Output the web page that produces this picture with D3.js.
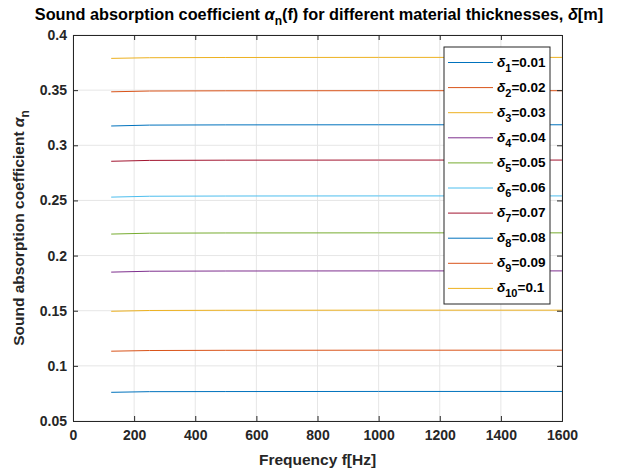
<!DOCTYPE html>
<html>
<head>
<meta charset="utf-8">
<script src="https://cdn.jsdelivr.net/npm/d3@7"></script>
<style>
  body { margin: 0; background: #fff; }
  text { font-family: "Liberation Sans", Arial, sans-serif; font-weight: bold; fill: #262626; }
</style>
</head>
<body>
<div id="chart"></div>
<script>
// frequencies (Hz) sampled along each curve
var freqs = [125, 250, 500, 1000, 1600];
// thickness values for the legend
var thick = ['0.01','0.02','0.03','0.04','0.05','0.06','0.07','0.08','0.09','0.1'];
// absorption coefficient for each thickness (nearly flat in f)
var alpha1  = [0.0760, 0.0766, 0.0767, 0.0768, 0.0768];
var alpha2  = [0.1133, 0.1139, 0.1141, 0.1142, 0.1142];
var alpha3  = [0.1495, 0.1502, 0.1504, 0.1505, 0.1505];
var alpha4  = [0.1850, 0.1858, 0.1860, 0.1861, 0.1861];
var alpha5  = [0.2195, 0.2203, 0.2205, 0.2206, 0.2206];
var alpha6  = [0.2530, 0.2538, 0.2540, 0.2541, 0.2541];
var alpha7  = [0.2855, 0.2863, 0.2865, 0.2866, 0.2866];
var alpha8  = [0.3175, 0.3183, 0.3185, 0.3186, 0.3186];
var alpha9  = [0.3485, 0.3492, 0.3494, 0.3495, 0.3495];
var alpha10 = [0.3788, 0.3794, 0.3796, 0.3797, 0.3797];
var series = [alpha1, alpha2, alpha3, alpha4, alpha5, alpha6, alpha7, alpha8, alpha9, alpha10];
var colors = ['#0072BD','#D95319','#EDB120','#7E2F8E','#77AC30','#4DBEEE','#A2142F','#0072BD','#D95319','#EDB120'];
var xTicks = [0,200,400,600,800,1000,1200,1400,1600];
var yTicks = [0.05,0.1,0.15,0.2,0.25,0.3,0.35,0.4];

var W = 620, H = 470;
var margin = {top: 35, left: 73, right: 58, bottom: 49};
var width = W - margin.left - margin.right,
    height = H - margin.top - margin.bottom;

var svg = d3.select("#chart").append("svg")
  .attr("width", W).attr("height", H);

var x = d3.scaleLinear().domain([0, 1600]).range([0, width]);
var y = d3.scaleLinear().domain([0.05, 0.4]).range([height, 0]);

var g = svg.append("g").attr("transform", "translate(" + margin.left + "," + margin.top + ")");

// grid
g.selectAll(".gx").data(xTicks).enter().append("line")
  .attr("x1", d => x(d)).attr("x2", d => x(d))
  .attr("y1", 0).attr("y2", height)
  .style("stroke", "#e6e6e6").style("stroke-width", 1);
g.selectAll(".gy").data(yTicks).enter().append("line")
  .attr("y1", d => y(d)).attr("y2", d => y(d))
  .attr("x1", 0).attr("x2", width)
  .style("stroke", "#e6e6e6").style("stroke-width", 1);

// curves
var line = d3.line().x((d, i) => x(freqs[i])).y(d => y(d));
g.selectAll(".curve").data(series).enter().append("path")
  .attr("d", line)
  .style("fill", "none")
  .style("stroke", (d, i) => colors[i])
  .style("stroke-width", 1);

// axes (box with ticks on all sides)
var xAxis = d3.axisBottom(x).tickValues(xTicks).tickSize(-5).tickPadding(9).tickFormat(d3.format("d"));
var yAxis = d3.axisLeft(y).tickValues(yTicks).tickSize(-5).tickPadding(6).tickFormat(d => String(d));
var gx = g.append("g").attr("transform", "translate(0," + height + ")").call(xAxis);
var gy = g.append("g").call(yAxis);
var gx2 = g.append("g").call(d3.axisTop(x).tickValues(xTicks).tickSize(-5).tickFormat(""));
var gy2 = g.append("g").attr("transform", "translate(" + width + ",0)").call(d3.axisRight(y).tickValues(yTicks).tickSize(-5).tickFormat(""));
[gx, gy, gx2, gy2].forEach(function(a) {
  a.select(".domain").style("stroke", "#262626");
  a.selectAll(".tick line").style("stroke", "#262626");
  a.selectAll(".tick text").style("font-size", "14px").style("font-family", "Liberation Sans, Arial, sans-serif")
    .style("font-weight", "bold").style("fill", "#262626");
});

// title
var title = svg.append("text").attr("x", 319).attr("y", 20).attr("text-anchor", "middle").style("font-size", "16.3px").style("fill", "#000");
title.append("tspan").text("Sound absorption coefficient ");
title.append("tspan").style("font-style", "italic").text("\u03b1");
title.append("tspan").attr("dy", 5).style("font-size", "12px").text("n");
title.append("tspan").attr("dy", -5).text("(f) for different material thicknesses, ");
title.append("tspan").style("font-style", "italic").text("\u03b4");
title.append("tspan").text("[m]");

// x label
svg.append("text").attr("x", margin.left + width / 2).attr("y", 465).attr("text-anchor", "middle")
  .style("font-size", "15.5px").text("Frequency f[Hz]");

// y label
var yl = svg.append("text").attr("transform", "translate(24," + (margin.top + height / 2) + ") rotate(-90)")
  .attr("text-anchor", "middle").style("font-size", "15.5px");
yl.append("tspan").text("Sound absorption coefficient ");
yl.append("tspan").style("font-style", "italic").text("\u03b1");
yl.append("tspan").attr("dy", 5).style("font-size", "12px").text("n");

// legend
var lg = svg.append("g").attr("transform", "translate(444,47)");
lg.append("rect").attr("width", 106).attr("height", 257)
  .style("fill", "#fff").style("stroke", "#262626").style("stroke-width", 1);
var items = lg.selectAll(".item").data(thick).enter().append("g")
  .attr("transform", (d, i) => "translate(0," + (15.5 + i * 25.1) + ")");
items.append("line").attr("x1", 4).attr("x2", 49).attr("y1", 0).attr("y2", 0)
  .style("stroke", (d, i) => colors[i]).style("stroke-width", 1);
var lt = items.append("text").attr("x", 53).attr("y", 4).style("font-size", "13.5px").style("fill", "#000");
lt.append("tspan").style("font-style", "italic").text("\u03b4");
lt.append("tspan").attr("dy", 5).style("font-size", "11px").text((d, i) => i + 1);
lt.append("tspan").attr("dy", -5).text(d => "=" + d);
</script>
</body>
</html>
